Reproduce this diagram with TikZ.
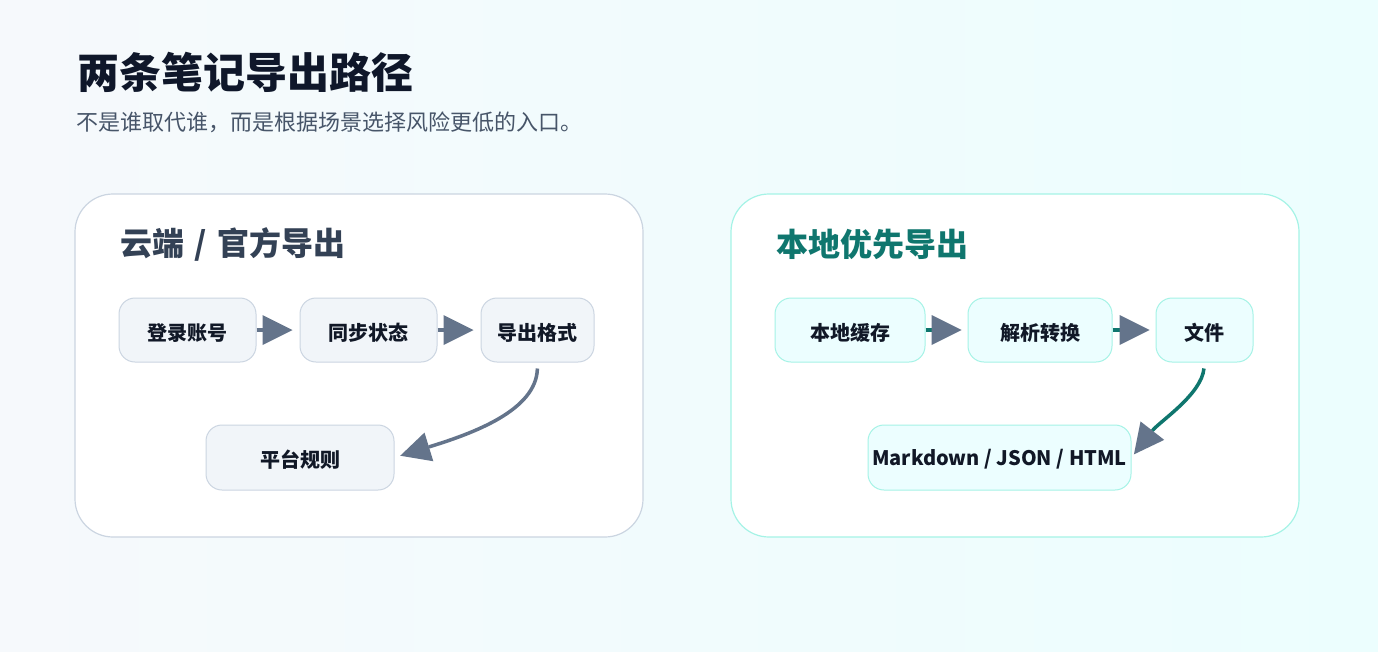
\documentclass[tikz,border=0pt]{standalone}
\usepackage{fontspec}
\setmainfont{Noto Sans CJK SC}
\usetikzlibrary{arrows.meta}
\definecolor{bgL}{HTML}{F6F9FC}
\definecolor{bgR}{HTML}{ECFEFE}
\definecolor{titlec}{HTML}{0F172A}
\definecolor{subc}{HTML}{475569}
\definecolor{ptL}{HTML}{334155}
\definecolor{ptR}{HTML}{0F766E}
\definecolor{ink}{HTML}{111827}
\definecolor{slate}{HTML}{64748B}
\definecolor{tealline}{HTML}{0F766E}
\definecolor{borderL}{HTML}{CBD5E1}
\definecolor{borderR}{HTML}{A5F3E6}
\definecolor{fillL}{HTML}{F1F5F9}
\definecolor{fillR}{HTML}{ECFEFF}
\tikzset{
  panelL/.style={draw=borderL, fill=white, line width=1.2pt, rounded corners=38pt},
  panelR/.style={draw=borderR, fill=white, line width=1.2pt, rounded corners=38pt},
  boxbase/.style={rounded corners=16pt, line width=1pt, inner sep=0pt, minimum height=64pt,
    text height=20pt, text depth=0pt,
    font=\fontsize{20}{24}\selectfont\bfseries, text=ink},
  boxL/.style={boxbase, draw=borderL, fill=fillL},
  boxR/.style={boxbase, draw=borderR, fill=fillR},
  tip/.style={-{Triangle[length=30pt,width=30pt,line width=0pt,fill=slate,color=slate]}},
  arrL/.style={tip, draw=slate, line width=3.5pt, shorten >=7pt},
  arrR/.style={tip, draw=tealline, line width=3.5pt, shorten >=6pt},
  ptitle/.style={anchor=west, inner sep=0pt, font=\fontsize{32}{38}\selectfont\bfseries}
}
\begin{document}
\begin{tikzpicture}[x=1pt,y=-1pt]
\useasboundingbox (0,0) rectangle (1378,651);
\shade[left color=bgL, right color=bgR] (0,0) rectangle (1378,651);

\node[anchor=west, inner sep=0pt, font=\fontsize{42}{50}\selectfont\bfseries, text=titlec] (title) at (77,72.5) {两条笔记导出路径};
\node[anchor=west, inner sep=0pt, font=\fontsize{22}{26}\selectfont, text=subc] (subtitle) at (76,122.5) {不是谁取代谁，而是根据场景选择风险更低的入口。};

% left panel
\draw[panelL] (75,194) rectangle (643,537);
\node[ptitle, text=ptL] (ptl) at (120,244) {云端\hspace{3pt} / \hspace{3pt}官方导出};
\node[boxL, minimum width=137pt] (n1) at (187.5,330) {登录账号};
\node[boxL, minimum width=137pt] (n2) at (368.5,330) {同步状态};
\node[boxL, minimum width=113pt] (n3) at (537.5,330) {导出格式};
\node[boxL, minimum width=188pt, minimum height=65pt] (n4) at (300,457.5) {平台规则};
\draw[arrL] (n1) -- (n2);
\draw[arrL] (n2) -- (n3);
\draw[arrL, shorten <=6pt, shorten >=6pt] (n3.south) .. controls +(-1,48) and +(78,-24) .. (n4.east);

% right panel
\draw[panelR] (731,194) rectangle (1299,537);
\node[ptitle, text=ptR] (ptr) at (776,244) {本地优先导出};
\node[boxR, minimum width=150pt] (m1) at (850,330) {本地缓存};
\node[boxR, minimum width=144pt] (m2) at (1040,330) {解析转换};
\node[boxR, minimum width=97pt] (m3) at (1204.5,330) {文件};
\node[boxR, minimum width=263pt, minimum height=65pt, text height=16pt] (m4) at (999.5,457.5) {Markdown / JSON / HTML};
\draw[arrR] (m1) -- (m2);
\draw[arrR] (m2) -- (m3);
\draw[arrR, shorten <=6pt, shorten >=4pt] (m3.south) .. controls +(-3,32) and +(28,-36) .. (m4.east);
\end{tikzpicture}
\end{document}
